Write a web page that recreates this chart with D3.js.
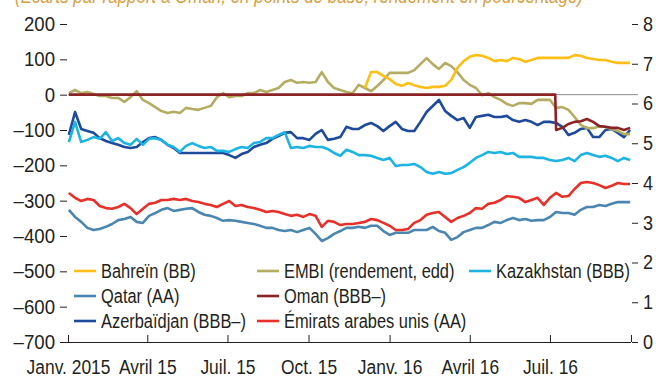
<!DOCTYPE html>
<html>
<head>
<meta charset="utf-8">
<script src="https://cdn.jsdelivr.net/npm/d3@7"></script>
<style>
  body { margin: 0; background: #fff; }
  svg { display: block; }
  text { font-family: "Liberation Sans", Arial, sans-serif; fill: #231f20; }
</style>
</head>
<body>
<svg id="chart" width="656" height="377"></svg>
<script>
// Weekly observations, 2 Jan 2015 – 30 Sep 2016
const parse = d3.timeParse("%Y-%m-%d");
const weeks = d3.timeDay.range(parse("2015-01-02"), parse("2016-10-01"), 7);

// Spreads, basis points (left axis)
const azerbaidjan = [
  -114,-49,-97,-103,-108,-123,-131,-137,-142,-148,
  -151,-148,-134,-123,-120,-128,-142,-151,-165,-165,
  -165,-165,-165,-165,-165,-165,-171,-179,-168,-162,
  -148,-142,-137,-125,-117,-108,-106,-123,-123,-128,
  -111,-100,-128,-125,-120,-91,-97,-97,-86,-80,
  -89,-103,-89,-77,-97,-103,-103,-77,-49,-32,
  -15,-46,-60,-72,-66,-94,-63,-60,-57,-63,
  -63,-60,-72,-77,-72,-77,-86,-77,-77,-80,
  -91,-114,-108,-97,-94,-120,-120,-100,-97,-108,
  -120,-100];

const kazakhstan = [
  -134,-77,-134,-128,-120,-125,-106,-131,-123,-137,
  -142,-125,-142,-125,-123,-128,-142,-148,-162,-145,
  -137,-145,-151,-148,-159,-159,-162,-154,-148,-151,
  -137,-134,-123,-123,-114,-106,-151,-148,-151,-145,
  -148,-148,-154,-165,-173,-156,-162,-171,-171,-173,
  -179,-185,-179,-202,-199,-199,-196,-205,-219,-224,
  -219,-224,-222,-213,-205,-193,-179,-171,-162,-165,
  -162,-168,-165,-176,-176,-176,-179,-179,-185,-188,
  -185,-179,-188,-171,-165,-171,-176,-173,-179,-188,
  -179,-185];

const emirats = [
  -278,-292,-301,-295,-298,-315,-321,-323,-318,-309,
  -321,-338,-323,-309,-306,-298,-298,-295,-298,-295,
  -301,-304,-309,-312,-318,-309,-301,-315,-312,-318,
  -321,-326,-332,-329,-332,-338,-343,-340,-346,-338,
  -343,-374,-357,-360,-369,-366,-366,-363,-360,-352,
  -355,-363,-371,-383,-383,-380,-363,-355,-340,-335,
  -332,-346,-360,-349,-343,-335,-321,-323,-309,-306,
  -298,-287,-289,-292,-304,-298,-292,-312,-292,-278,
  -289,-287,-267,-250,-247,-250,-256,-264,-258,-250,
  -253,-253];

const qatar = [
  -326,-346,-360,-377,-383,-380,-374,-366,-355,-352,
  -346,-360,-363,-343,-335,-326,-321,-329,-326,-323,
  -321,-332,-340,-343,-349,-357,-355,-357,-360,-363,
  -366,-371,-377,-377,-383,-386,-383,-389,-383,-377,
  -394,-414,-406,-394,-386,-377,-377,-374,-377,-371,
  -371,-386,-397,-391,-391,-391,-383,-383,-383,-374,
  -386,-391,-411,-403,-389,-383,-377,-377,-369,-360,
  -363,-355,-349,-355,-352,-357,-355,-355,-346,-332,
  -335,-335,-340,-326,-318,-318,-312,-315,-309,-304,
  -304,-304];

// Bahrain is quoted from mid-November 2015 onwards
const bahreinFirstWeek = 48;
const bahrein = [
  19,64,64,53,44,30,25,33,27,22,
  19,22,22,25,42,76,95,107,112,110,
  104,95,98,95,104,101,93,98,104,104,
  104,104,104,104,112,110,104,101,98,98,
  93,90,90,90];

// Oman: reference level until the July 2016 break
const omanDates  = ["2015-01-02","2016-07-07","2016-07-08","2016-07-15","2016-07-22","2016-07-29","2016-08-05",
                    "2016-08-12","2016-08-19","2016-08-26","2016-09-02","2016-09-09","2016-09-16","2016-09-23","2016-09-30"];
const omanValues = [0, 0, -100, -94, -83, -77, -75, -69, -77, -89, -91, -94, -94, -100, -94];

// EMBI yield, percent (right axis)
const embi = [
  6.26,6.34,6.26,6.29,6.24,6.19,6.19,6.14,6.14,6.04,
  6.16,6.31,6.09,6.01,5.91,5.81,5.76,5.79,5.76,5.89,
  5.86,5.84,5.89,5.94,6.16,6.26,6.16,6.19,6.19,6.26,
  6.26,6.34,6.29,6.34,6.39,6.54,6.59,6.52,6.54,6.52,
  6.54,6.79,6.54,6.39,6.34,6.29,6.26,6.47,6.39,6.31,
  6.44,6.59,6.77,6.77,6.77,6.77,6.84,6.99,7.14,6.99,
  6.87,7.02,6.94,6.79,6.59,6.47,6.39,6.21,6.26,6.16,
  6.09,5.99,5.94,6.01,6.01,5.99,6.09,6.09,6.09,5.89,
  5.91,5.84,5.66,5.46,5.38,5.38,5.43,5.41,5.36,5.31,
  5.23,5.23];

// Axis ticks
const leftTicks = [200, 100, 0, -100, -200, -300, -400, -500, -600, -700];
const rightTicks = [0, 1, 2, 3, 4, 5, 6, 7, 8];
const xTickDates = ["2015-01-01","2015-04-01","2015-07-01","2015-10-01","2016-01-01","2016-04-01","2016-07-01","2016-10-01"];
const xTickLabels = ["Janv. 2015","Avril 15","Juil. 15","Oct. 15","Janv. 16","Avril 16","Juil. 16",""];

const subtitle = "(Écarts par rapport à Oman, en points de base; rendement en pourcentage)";

// Series: label, colour, axis, points
const series = [
  { name: "Qatar (AA)", color: "#4a86b0", axis: "L", pts: weeks.map((d, i) => [d, qatar[i]]) },
  { name: "Émirats arabes unis (AA)", color: "#e8302a", axis: "L", pts: weeks.map((d, i) => [d, emirats[i]]) },
  { name: "Azerbaïdjan (BBB–)", color: "#1d4a9a", axis: "L", pts: weeks.map((d, i) => [d, azerbaidjan[i]]) },
  { name: "Kazakhstan (BBB)", color: "#1cb4e2", axis: "L", pts: weeks.map((d, i) => [d, kazakhstan[i]]) },
  { name: "EMBI (rendement, edd)", color: "#b4ac62", axis: "R", pts: weeks.map((d, i) => [d, embi[i]]) },
  { name: "Oman (BBB–)", color: "#8b2224", axis: "L", pts: omanDates.map((d, i) => [parse(d), omanValues[i]]) },
  { name: "Bahreïn (BB)", color: "#fdbf16", axis: "L",
    pts: bahrein.map((v, i) => [weeks[bahreinFirstWeek + i], v]) }
];

const legendRows = [
  ["Bahreïn (BB)", "EMBI (rendement, edd)", "Kazakhstan (BBB)"],
  ["Qatar (AA)", "Oman (BBB–)", null],
  ["Azerbaïdjan (BBB–)", "Émirats arabes unis (AA)", null]
];

// Narrow the glyphs horizontally (condensed typeface look)
function condense(sel, f) {
  sel.each(function () {
    const w = this.getComputedTextLength();
    if (w > 0) d3.select(this).attr("textLength", w * f).attr("lengthAdjust", "spacingAndGlyphs");
  });
}

const svg = d3.select("#chart");
const x = d3.scaleTime().domain([parse("2015-01-01"), parse("2016-10-01")]).range([68, 631]);
const yL = d3.scaleLinear().domain([-700, 200]).range([342, 24]);
const yR = d3.scaleLinear().domain([0, 8]).range([342, 24]);
const fmt = d => d < 0 ? "–" + Math.abs(d) : String(d);

// Title line (partly above the frame)
svg.append("text")
  .attr("x", 15).attr("y", 3)
  .attr("textLength", 568).attr("lengthAdjust", "spacingAndGlyphs")
  .style("font-style", "italic").style("font-size", "20px").style("fill", "#d59f45")
  .text(subtitle);

// Zero reference line
svg.append("line")
  .attr("x1", x.range()[0]).attr("x2", 638)
  .attr("y1", yL(0)).attr("y2", yL(0))
  .attr("stroke", "#8a8a8a").attr("stroke-width", 1);

// Left axis
const gL = svg.append("g").attr("transform", "translate(67,0)")
  .call(d3.axisLeft(yL).tickValues(leftTicks).tickSize(7).tickPadding(5).tickFormat(fmt));
gL.select(".domain").remove();

// Right axis
const gR = svg.append("g").attr("transform", "translate(632,0)")
  .call(d3.axisRight(yR).tickValues(rightTicks).tickSize(6).tickPadding(5).tickFormat(d3.format("d")));
gR.select(".domain").remove();

// Bottom axis
const gX = svg.append("g").attr("transform", "translate(0,342)")
  .call(d3.axisBottom(x).tickValues(xTickDates.map(parse)).tickSize(-7).tickSizeOuter(0)
    .tickFormat((d, i) => xTickLabels[i]));
gX.selectAll(".tick text").attr("y", 18);
gX.select(".domain").attr("d", `M${x.range()[0] - 1},0.5H${x.range()[1]}`);

svg.selectAll(".tick text").style("font-size", "20px").style("font-family", null);
svg.selectAll(".tick line").attr("stroke", "#231f20");
svg.selectAll(".domain").attr("stroke", "#231f20");
condense(gL.selectAll(".tick text"), 0.93);
condense(gR.selectAll(".tick text"), 0.9);
condense(gX.selectAll(".tick text"), 0.87);

// Lines
const lineFor = s => d3.line()
  .defined(p => p[1] != null)
  .x(p => x(p[0]))
  .y(p => (s.axis === "R" ? yR : yL)(p[1]));

svg.append("g").selectAll("path").data(series).join("path")
  .attr("d", s => lineFor(s)(s.pts))
  .attr("fill", "none")
  .attr("stroke", s => s.color)
  .attr("stroke-width", 2.6)
  .attr("stroke-linejoin", "round");

// Legend
const colorOf = Object.fromEntries(series.map(s => [s.name, s.color]));
const colX = [74, 257, 469];
const rowY = [271, 296, 321];
const leg = svg.append("g");
legendRows.forEach((row, r) => row.forEach((name, c) => {
  if (!name) return;
  leg.append("line")
    .attr("x1", colX[c]).attr("x2", colX[c] + 22)
    .attr("y1", rowY[r]).attr("y2", rowY[r])
    .attr("stroke", colorOf[name]).attr("stroke-width", 2.6);
  leg.append("text")
    .attr("x", colX[c] + 27).attr("y", rowY[r] + 7)
    .style("font-size", "20px")
    .text(name);
}));
condense(leg.selectAll("text"), 0.82);
</script>
</body>
</html>
